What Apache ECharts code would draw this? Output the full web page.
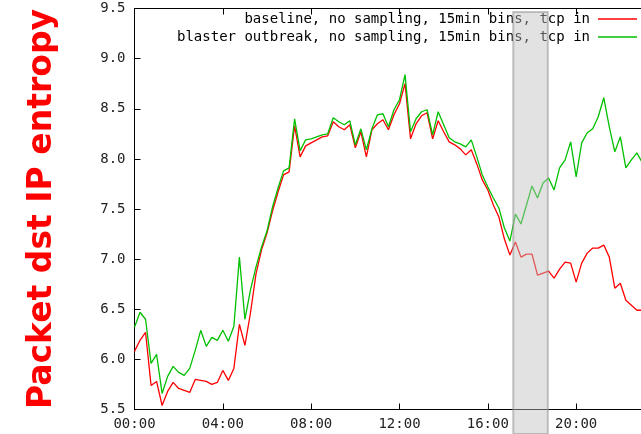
<!DOCTYPE html>
<html>
<head>
<meta charset="utf-8">
<script src="https://cdn.jsdelivr.net/npm/echarts@6/dist/echarts.min.js"></script>
<style>
  html, body { margin: 0; padding: 0; background: #ffffff; }
  #chart { width: 641px; height: 434px; }
</style>
</head>
<body>
<div id="chart"></div>
<script>
// Destination-IP entropy of inbound TCP packets, one value per 15-minute bin.
const binMinutes = 15;

const baseline = [
  6.08, 6.19, 6.27, 5.74, 5.78, 5.54, 5.68, 5.77, 5.71, 5.69, 5.67, 5.80,
  5.79, 5.78, 5.75, 5.77, 5.89, 5.79, 5.91, 6.35, 6.14, 6.46, 6.85, 7.09,
  7.26, 7.48, 7.67, 7.84, 7.87, 8.33, 8.02, 8.13, 8.16, 8.19, 8.22, 8.23,
  8.37, 8.32, 8.29, 8.34, 8.11, 8.27, 8.02, 8.29, 8.35, 8.39, 8.29, 8.44,
  8.55, 8.75, 8.20, 8.35, 8.43, 8.46, 8.20, 8.38, 8.27, 8.17, 8.14, 8.10,
  8.04, 8.09, 7.95, 7.79, 7.69, 7.54, 7.42, 7.20, 7.04, 7.17, 7.02, 7.05,
  7.05, 6.84, 6.86, 6.88, 6.81, 6.90, 6.97, 6.96, 6.77, 6.96, 7.06, 7.11,
  7.11, 7.14, 7.02, 6.71, 6.76, 6.59, 6.54, 6.49, 6.49
];

const blaster = [
  6.32, 6.47, 6.40, 5.96, 6.05, 5.66, 5.83, 5.93, 5.87, 5.84, 5.91, 6.09,
  6.29, 6.13, 6.22, 6.19, 6.29, 6.18, 6.33, 7.02, 6.40, 6.69, 6.92, 7.12,
  7.28, 7.52, 7.71, 7.88, 7.91, 8.40, 8.08, 8.19, 8.20, 8.22, 8.24, 8.25,
  8.41, 8.37, 8.34, 8.38, 8.14, 8.30, 8.09, 8.30, 8.44, 8.45, 8.32, 8.49,
  8.59, 8.84, 8.27, 8.40, 8.47, 8.49, 8.24, 8.47, 8.34, 8.21, 8.17, 8.15,
  8.12, 8.19, 8.02, 7.84, 7.72, 7.61, 7.51, 7.31, 7.18, 7.45, 7.35, 7.54,
  7.73, 7.61, 7.76, 7.81, 7.69, 7.91, 7.99, 8.17, 7.82, 8.16, 8.26, 8.30,
  8.42, 8.61, 8.32, 8.07, 8.22, 7.91, 7.99, 8.06, 7.96
];

const seriesNames = [
  'baseline, no sampling, 15min bins, tcp in',
  'blaster outbreak, no sampling, 15min bins, tcp in'
];
const seriesColors = ['#ff0000', '#00c000'];

const xTickLabels = ['00:00', '04:00', '08:00', '12:00', '16:00', '20:00', '24:00'];
const yTickLabels = ['5.5', '6.0', '6.5', '7.0', '7.5', '8.0', '8.5', '9.0', '9.5'];
const axisTitle = 'Packet dst IP entropy';

// Highlighted outbreak window (clock time)
const outbreakWindow = ['17:09', '18:43'];

const toMinutes = s => { const [h, m] = s.split(':').map(Number); return h * 60 + m; };
const toPairs = vals => vals.map((v, i) => [i * binMinutes, v]);

const monoFont = { fontFamily: 'DejaVu Sans Mono', fontSize: 14, color: '#222222' };
const axisLineStyle = { color: '#000000', width: 1 };

const chart = echarts.init(document.getElementById('chart'), null, { renderer: 'canvas' });

chart.setOption({
  animation: false,
  backgroundColor: '#ffffff',
  // the day runs on past the right edge of the canvas
  grid: {
    left: 134.5, top: 8.5, right: -23.5, bottom: 24.5,
    containLabel: false, outerBoundsMode: 'none'
  },
  legend: {
    orient: 'vertical',
    right: 4,
    top: 12,
    align: 'right',
    icon: 'rect',
    itemWidth: 39,
    itemHeight: 1.5,
    itemGap: 4,
    padding: 0,
    textStyle: Object.assign({}, monoFont, { color: '#000000', padding: [0, 3, 0, 0] }),
    data: seriesNames.map((n, i) => ({ name: n, itemStyle: { color: seriesColors[i] } }))
  },
  xAxis: [
    {
      type: 'value', position: 'bottom', min: 0, max: 1440, interval: 240,
      axisLine: { show: true, lineStyle: axisLineStyle },
      axisTick: { show: true, inside: true, length: 6, lineStyle: axisLineStyle },
      splitLine: { show: false },
      axisLabel: Object.assign({}, monoFont, {
        margin: 8,
        formatter: v => xTickLabels[Math.round(v / 240)]
      })
    },
    {
      type: 'value', position: 'top', min: 0, max: 1440, interval: 240,
      axisLine: { show: true, lineStyle: axisLineStyle },
      axisTick: { show: true, inside: true, length: 6, lineStyle: axisLineStyle },
      splitLine: { show: false },
      axisLabel: { show: false }
    }
  ],
  yAxis: {
    type: 'value', min: 5.5, max: 9.5, interval: 0.5,
    axisLine: { show: true, lineStyle: axisLineStyle },
    axisTick: { show: true, inside: true, length: 6, lineStyle: axisLineStyle },
    splitLine: { show: false },
    axisLabel: Object.assign({}, monoFont, {
      margin: 9,
      formatter: v => yTickLabels[Math.round((v - 5.5) / 0.5)]
    }),
    name: axisTitle,
    nameLocation: 'middle',
    nameGap: 76,
    nameRotate: 90,
    nameTextStyle: {
      color: '#ff0000', fontSize: 33, fontWeight: 'bold', fontFamily: 'DejaVu Sans'
    }
  },
  series: [
    {
      name: seriesNames[0], type: 'line', xAxisIndex: 0,
      data: toPairs(baseline),
      symbol: 'none', showSymbol: false,
      lineStyle: { color: seriesColors[0], width: 1.3 },
      itemStyle: { color: seriesColors[0] },
      z: 2
    },
    {
      name: seriesNames[1], type: 'line', xAxisIndex: 0,
      data: toPairs(blaster),
      symbol: 'none', showSymbol: false,
      lineStyle: { color: seriesColors[1], width: 1.3 },
      itemStyle: { color: seriesColors[1] },
      z: 3
    }
  ]
});

// Translucent band over the outbreak window, placed through the x axis scale
const bandX0 = chart.convertToPixel({ xAxisIndex: 0 }, toMinutes(outbreakWindow[0]));
const bandX1 = chart.convertToPixel({ xAxisIndex: 0 }, toMinutes(outbreakWindow[1]));
const bandTop = chart.convertToPixel({ yAxisIndex: 0 }, 9.465);

chart.setOption({
  graphic: [{
    type: 'rect',
    z: 100,
    silent: true,
    shape: { x: bandX0, y: bandTop, width: bandX1 - bandX0, height: chart.getHeight() - bandTop },
    style: {
      fill: 'rgba(190,190,190,0.45)',
      stroke: 'rgba(150,150,150,0.55)',
      lineWidth: 2
    }
  }]
});
</script>
</body>
</html>
